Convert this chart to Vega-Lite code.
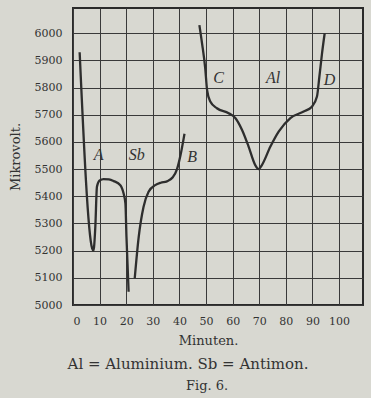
{
  "$schema": "https://vega.github.io/schema/vega-lite/v6.json",
  "width": 290,
  "height": 297,
  "autosize": "none",
  "padding": {"left": 73, "top": 8, "right": 8, "bottom": 93},
  "background": "#d8d8d1",
  "config": {
    "view": {"stroke": "#2a2a2a", "strokeWidth": 2},
    "font": "DejaVu Serif",
    "axis": {
      "grid": true,
      "gridColor": "#3a3a3a",
      "gridWidth": 1,
      "gridOpacity": 1,
      "domain": false,
      "ticks": false,
      "labelFont": "DejaVu Serif",
      "labelFontSize": 11,
      "labelColor": "#333333",
      "labelOverlap": false,
      "titleFont": "DejaVu Serif",
      "titleFontWeight": "normal",
      "titleFontSize": 13,
      "titleColor": "#333333"
    }
  },
  "title": {
    "text": "Al = Aluminium.  Sb = Antimon.",
    "subtitle": "\u2800\u2800\u2800\u2800Fig. 6.",
    "orient": "bottom",
    "anchor": "middle",
    "dx": -30,
    "offset": 10,
    "font": "DejaVu Serif",
    "subtitleFont": "DejaVu Serif",
    "fontSize": 15,
    "subtitleFontSize": 13,
    "fontWeight": "normal",
    "color": "#333333",
    "subtitleColor": "#333333",
    "subtitlePadding": 8
  },
  "datasets": {
    "curve": [
      {"s": 1, "min": 2.5, "uv": 5930},
      {"s": 1, "min": 7.2, "uv": 5208},
      {"s": 1, "min": 7.6, "uv": 5200},
      {"s": 1, "min": 7.9, "uv": 5212},
      {"s": 1, "min": 8.4, "uv": 5290},
      {"s": 1, "min": 9.0, "uv": 5435},
      {"s": 1, "min": 10.0, "uv": 5458},
      {"s": 1, "min": 11.5, "uv": 5463},
      {"s": 1, "min": 13.5, "uv": 5462},
      {"s": 1, "min": 15.3, "uv": 5456},
      {"s": 1, "min": 17.8, "uv": 5441},
      {"s": 1, "min": 19.0, "uv": 5411},
      {"s": 1, "min": 19.7, "uv": 5374},
      {"s": 1, "min": 20.1, "uv": 5250},
      {"s": 1, "min": 20.5, "uv": 5150},
      {"s": 1, "min": 20.9, "uv": 5049},
      {"s": 2, "min": 23.2, "uv": 5098},
      {"s": 2, "min": 24.7, "uv": 5251},
      {"s": 2, "min": 26.5, "uv": 5361},
      {"s": 2, "min": 28.4, "uv": 5417},
      {"s": 2, "min": 30.9, "uv": 5441},
      {"s": 2, "min": 33.0, "uv": 5450},
      {"s": 2, "min": 35.3, "uv": 5455},
      {"s": 2, "min": 37.5, "uv": 5470},
      {"s": 2, "min": 39.1, "uv": 5500},
      {"s": 2, "min": 40.4, "uv": 5551},
      {"s": 2, "min": 41.9, "uv": 5630},
      {"s": 3, "min": 47.5, "uv": 6030},
      {"s": 3, "min": 48.5, "uv": 5963},
      {"s": 3, "min": 49.7, "uv": 5871},
      {"s": 3, "min": 50.4, "uv": 5791},
      {"s": 3, "min": 51.6, "uv": 5749},
      {"s": 3, "min": 54.1, "uv": 5724},
      {"s": 3, "min": 58.5, "uv": 5706},
      {"s": 3, "min": 61.0, "uv": 5688},
      {"s": 3, "min": 63.5, "uv": 5645},
      {"s": 3, "min": 66.0, "uv": 5583},
      {"s": 3, "min": 68.5, "uv": 5515},
      {"s": 3, "min": 69.8, "uv": 5500},
      {"s": 3, "min": 71.0, "uv": 5515},
      {"s": 3, "min": 74.2, "uv": 5583},
      {"s": 3, "min": 77.3, "uv": 5638},
      {"s": 3, "min": 81.7, "uv": 5688},
      {"s": 3, "min": 86.7, "uv": 5712},
      {"s": 3, "min": 89.8, "uv": 5730},
      {"s": 3, "min": 91.7, "uv": 5767},
      {"s": 3, "min": 92.6, "uv": 5840},
      {"s": 3, "min": 93.6, "uv": 5926},
      {"s": 3, "min": 94.6, "uv": 6000}
    ],
    "labels": [
      {"min": 9.6, "uv": 5553, "t": "A"},
      {"min": 24.0, "uv": 5553, "t": "Sb"},
      {"min": 44.8, "uv": 5545, "t": "B"},
      {"min": 54.7, "uv": 5835, "t": "C"},
      {"min": 75.2, "uv": 5835, "t": "Al"},
      {"min": 96.4, "uv": 5828, "t": "D"}
    ]
  },
  "encoding": {
    "x": {
      "field": "min",
      "type": "quantitative",
      "scale": {"domain": [0, 109], "nice": false, "zero": false},
      "axis": {
        "values": [0, 10, 20, 30, 40, 50, 60, 70, 80, 90, 100],
        "format": "d",
        "title": "Minuten.",
        "labelPadding": 10,
        "titlePadding": 8,
        "titleX": 135,
        "titleAlign": "center"
      }
    },
    "y": {
      "field": "uv",
      "type": "quantitative",
      "scale": {"domain": [5000, 6093], "nice": false, "zero": false},
      "axis": {
        "values": [5000, 5100, 5200, 5300, 5400, 5500, 5600, 5700, 5800, 5900, 6000],
        "format": "d",
        "title": "Mikrovolt.",
        "labelPadding": 11,
        "titlePadding": 12
      }
    }
  },
  "layer": [
    {
      "data": {"name": "curve"},
      "mark": {"type": "line", "color": "#2e2e2e", "strokeWidth": 2.3, "interpolate": "monotone"},
      "encoding": {
        "detail": {"field": "s"}
      }
    },
    {
      "data": {"name": "labels"},
      "mark": {"type": "text", "font": "Liberation Serif", "fontStyle": "italic", "fontSize": 16, "color": "#333333"},
      "encoding": {
        "text": {"field": "t"}
      }
    }
  ]
}
